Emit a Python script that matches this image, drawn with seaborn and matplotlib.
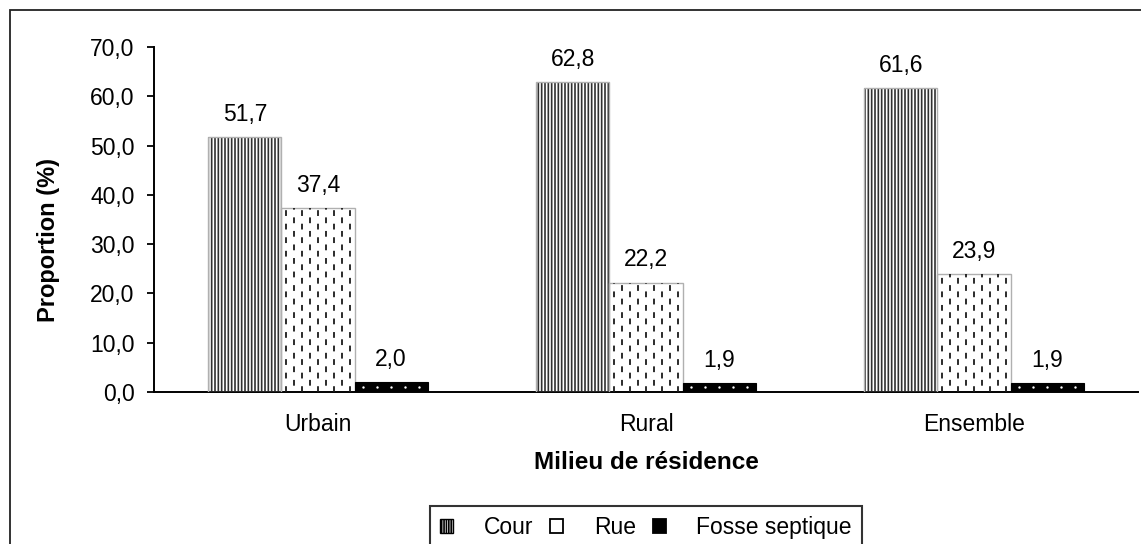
import matplotlib
matplotlib.use("Agg")
import matplotlib.pyplot as plt
from matplotlib.patches import Patch, Rectangle
from matplotlib.ticker import FuncFormatter
import pandas as pd
import seaborn as sns

# data
milieux = ["Urbain", "Rural", "Ensemble"]
types = ["Cour", "Rue", "Fosse septique"]
cour = [51.7, 62.8, 61.6]
rue = [37.4, 22.2, 23.9]
fosse = [2.0, 1.9, 1.9]
y_ticks = [0, 10, 20, 30, 40, 50, 60, 70]

df = pd.DataFrame({
    "milieu": milieux * 3,
    "type": [types[0]] * 3 + [types[1]] * 3 + [types[2]] * 3,
    "proportion": cour + rue + fosse,
})

sns.set_style("white")
plt.rcParams["font.family"] = ["Liberation Sans", "DejaVu Sans"]
plt.rcParams["hatch.linewidth"] = 1.2
for k in ["text.color", "axes.labelcolor", "xtick.color", "ytick.color"]:
    plt.rcParams[k] = "black"

FS = 16.5


def fr(v):
    return f"{v:.1f}".replace(".", ",")


fig = plt.figure(figsize=(11.41, 5.44), dpi=100)
ax = fig.add_axes([154 / 1141, 1 - 392 / 544, 984 / 1141, 345 / 544])

sns.barplot(data=df, x="milieu", y="proportion", hue="type", order=milieux,
            hue_order=types, palette=["white", "white", "black"], width=0.668,
            saturation=1, legend=False, ax=ax)

cont_cour, cont_rue, cont_fosse = ax.containers

# Cour: dense vertical lines
for bar in cont_cour:
    bar.set_facecolor("white")
    bar.set_edgecolor("#303030")
    bar.set_hatch("|||||")
    bar.set_linewidth(0)
    ax.add_patch(Rectangle(bar.get_xy(), bar.get_width(), bar.get_height(),
                           fill=False, edgecolor="#b0b0b0", lw=1, zorder=3))

# Rue: short staggered vertical dashes
for bar in cont_rue:
    bar.set_facecolor("white")
    bar.set_edgecolor("#b0b0b0")
    bar.set_linewidth(1)
    x0, w, h = bar.get_x(), bar.get_width(), bar.get_height()
    ncol = 9
    for i in range(ncol):
        xc = x0 + w * (i + 0.5) / ncol
        off = 0 if i % 2 == 0 else 4
        ax.vlines(xc, 0, h, colors="#1a1a1a", linewidth=1.3,
                  linestyles=[(off, (3.2, 4.3))], zorder=3)

# Fosse septique: black with a row of white dots
for bar in cont_fosse:
    bar.set_facecolor("black")
    bar.set_edgecolor("black")
    bar.set_linewidth(0.8)
    x0, w, h = bar.get_x(), bar.get_width(), bar.get_height()
    xs = [x0 + w * (0.12 + 0.19 * i) for i in range(5)]
    ax.scatter(xs, [h / 2] * 5, s=3, color="white", linewidths=0, zorder=4)

for c in ax.containers:
    ax.bar_label(c, labels=[fr(b.get_height()) for b in c], padding=8,
                 fontsize=FS)

ax.set_xlim(-0.5, 2.5)
ax.set_ylim(0, 70)
ax.set_yticks(y_ticks)
ax.yaxis.set_major_formatter(FuncFormatter(lambda v, p: fr(v)))
ax.set_xticks([-0.5, 0.5, 1.5, 2.5], minor=True)
ax.tick_params(axis="x", which="major", length=0, pad=15, labelsize=FS)
ax.tick_params(axis="x", which="minor", length=5, width=1.3, direction="out",
               color="black")
ax.tick_params(axis="y", length=5, width=1.3, direction="out", color="black",
               pad=9, labelsize=FS)
ax.tick_params(left=True)

for side in ["top", "right"]:
    ax.spines[side].set_visible(False)
for side in ["left", "bottom"]:
    ax.spines[side].set_color("black")
    ax.spines[side].set_linewidth(1.4)

ax.set_xlabel("Milieu de résidence", fontsize=17.5, fontweight="bold")
ax.set_ylabel("Proportion (%)", fontsize=17, fontweight="bold")
ax.xaxis.set_label_coords(0.5, -0.17)
ax.yaxis.set_label_coords(-0.0955, 0.44)

handles = [
    Patch(facecolor="white", edgecolor="black", hatch="|||||||", lw=1),
    Patch(facecolor="white", edgecolor="black", lw=1.3),
    Patch(facecolor="black", edgecolor="black", lw=1.3),
]
leg = fig.legend(handles, types, loc="upper center", ncol=3,
                 bbox_to_anchor=(646 / 1141, 1 - 506 / 544),
                 bbox_transform=fig.transFigure, fontsize=FS, frameon=True,
                 fancybox=False, edgecolor="black", handlelength=0.55,
                 handleheight=0.55, handletextpad=1.35, columnspacing=0.75,
                 borderpad=0.45, borderaxespad=0)
leg.get_frame().set_linewidth(1.5)

# outer frame of the figure (runs off the right and bottom edges)
fig.patches.append(Rectangle((10 / 1141, -0.2), 1.2, 1.2 - 10 / 544,
                             transform=fig.transFigure, fill=False,
                             edgecolor="#222222", lw=1.3))

fig.savefig("out.png", dpi=100)
